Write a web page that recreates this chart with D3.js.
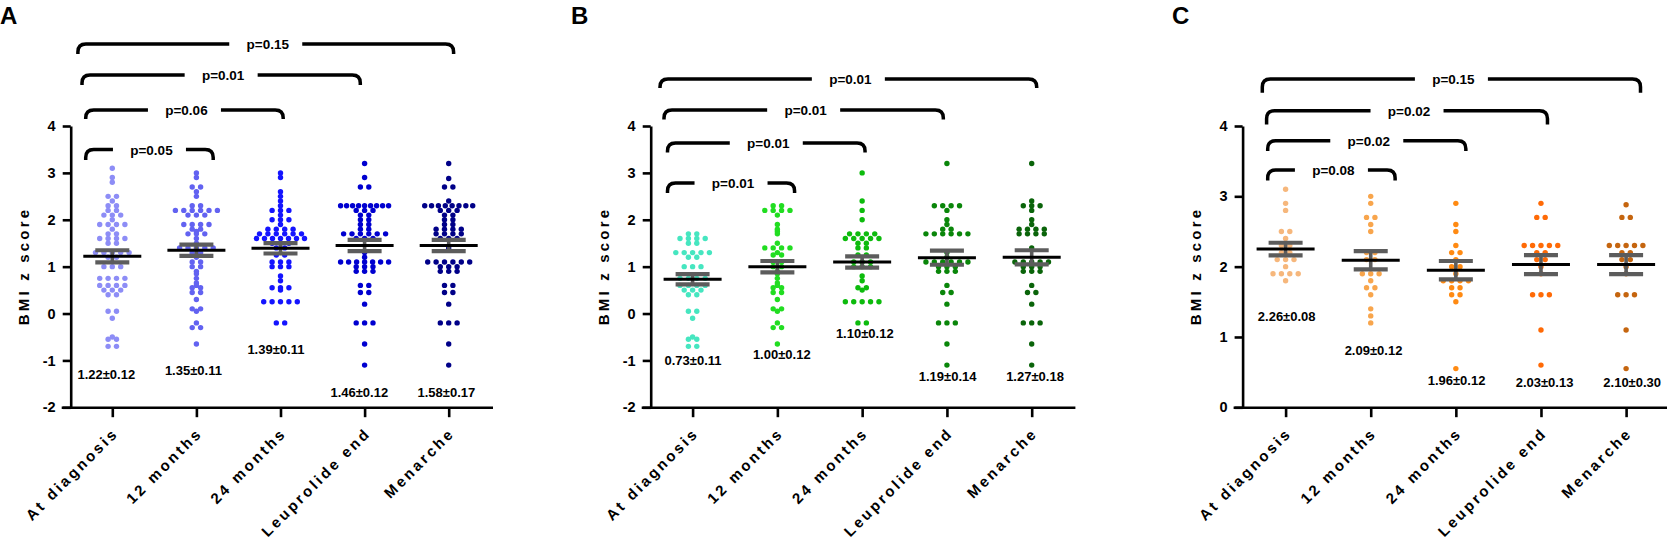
<!DOCTYPE html>
<html>
<head>
<meta charset="utf-8">
<script src="https://cdn.jsdelivr.net/npm/d3@7"></script>
<style>
  body { margin: 0; background: #fff; }
  svg { display: block; font-family: "Liberation Sans", Arial, sans-serif; font-weight: bold; }
  .tick text { font-size: 14.5px; font-weight: bold; fill: #000; }
  .tick line, .domain { stroke: #000; stroke-width: 2.6; }
</style>
</head>
<body>
<div id="chart"></div>
<script>
const categories = ["At diagnosis", "12 months", "24 months", "Leuprolide end", "Menarche"];

// panel A: all patients (BMI z score per dot)
const aDiagnosis = [3.1, 2.9, 2.8, 2.5, 2.5, 2.4, 2.3, 2.3, 2.2, 2.2, 2.1, 2.1, 2.1, 2.0, 1.9, 1.9, 1.9, 1.9, 1.8,
  1.7, 1.7, 1.6, 1.6, 1.6, 1.6, 1.5, 1.5, 1.3, 1.3, 1.3, 1.3, 1.3, 1.2, 1.2, 1.0, 1.0, 1.0,
  0.75, 0.75, 0.75, 0.75, 0.6, 0.6, 0.6, 0.6, 0.5, 0.5, 0.5, 0.4, 0.4,
  0.05, 0.05, -0.1, -0.5, -0.55, -0.55, -0.7, -0.7];
const a12m = [3.0, 2.9, 2.7, 2.7, 2.6, 2.5, 2.3, 2.3, 2.2, 2.2, 2.2, 2.2, 2.2, 2.2, 2.1, 2.1, 2.1, 1.9, 1.9, 1.9, 1.9,
  1.8, 1.8, 1.75, 1.7, 1.7, 1.7, 1.6, 1.5, 1.4, 1.4, 1.4, 1.4, 1.4, 1.3, 1.3, 1.25, 1.25, 1.2, 1.1, 1.1, 1.0, 1.0,
  0.9, 0.85, 0.75, 0.65, 0.6, 0.55, 0.55, 0.45, 0.45, 0.3, 0.1, 0.1, 0.05, -0.2, -0.3, -0.3, -0.65];
const a24m = [3.0, 2.9, 2.6, 2.5, 2.4, 2.3, 2.2, 2.2, 2.2, 2.1, 2.0, 2.0, 2.0, 1.9, 1.8, 1.8, 1.8, 1.8,
  1.7, 1.7, 1.7, 1.7, 1.7, 1.7, 1.6, 1.6, 1.6, 1.6, 1.6, 1.6, 1.6, 1.5, 1.5, 1.5, 1.4, 1.4, 1.25, 1.25,
  1.1, 1.1, 1.1, 1.0, 1.0, 1.0, 0.8, 0.7, 0.55, 0.55, 0.55, 0.5, 0.25, 0.25, 0.25, 0.25, 0.25, -0.2, -0.2];
const aLeuprolide = [3.2, 2.9, 2.7, 2.7, 2.3, 2.3, 2.3, 2.3, 2.3, 2.3, 2.3, 2.3, 2.3, 2.2, 2.2, 2.2, 2.1, 2.1,
  2.0, 2.0, 1.9, 1.9, 1.8, 1.8, 1.7, 1.7, 1.7, 1.7, 1.7, 1.7, 1.6, 1.6, 1.6, 1.3, 1.2,
  1.1, 1.1, 1.1, 1.1, 1.1, 1.1, 1.1, 1.0, 1.0, 1.0, 0.9, 0.9, 0.9, 0.6, 0.6, 0.45, 0.45, 0.2,
  -0.2, -0.2, -0.2, -0.65, -1.1];
const aMenarche = [3.2, 2.88, 2.7, 2.7, 2.4, 2.3, 2.3, 2.3, 2.3, 2.3, 2.3, 2.3, 2.3, 2.2, 2.2, 2.2, 2.1, 2.1,
  2.0, 2.0, 1.9, 1.9, 1.8, 1.8, 1.8, 1.8, 1.7, 1.7, 1.7, 1.7, 1.6, 1.6, 1.6, 1.4,
  1.1, 1.1, 1.1, 1.1, 1.1, 1.1, 1.0, 1.0, 1.0, 0.9, 0.9, 0.9, 0.6, 0.6, 0.45, 0.45, 0.2,
  -0.2, -0.2, -0.2, -0.65, -1.1];

// panel B
const bDiagnosis = [1.7, 1.7, 1.6, 1.6, 1.6, 1.6, 1.5, 1.5, 1.3, 1.3, 1.3, 1.3, 1.3, 1.2, 1.2, 1.0, 1.0, 1.0,
  0.75, 0.75, 0.75, 0.75, 0.6, 0.6, 0.6, 0.6, 0.5, 0.5, 0.5, 0.4, 0.4,
  0.05, 0.05, -0.1, -0.5, -0.55, -0.55, -0.7, -0.7];
const b12m = [2.3, 2.3, 2.2, 2.2, 2.2, 2.2, 2.1, 1.9, 1.8, 1.75, 1.7, 1.5, 1.4, 1.4, 1.4, 1.4, 1.3, 1.25, 1.25,
  1.1, 1.1, 1.0, 1.0, 0.9, 0.85, 0.75, 0.65, 0.6, 0.55, 0.55, 0.45, 0.45, 0.3, 0.1, 0.1, 0.05, -0.2, -0.3, -0.3, -0.65];
const b24m = [3.0, 2.4, 2.2, 2.0, 1.7, 1.7, 1.7, 1.7, 1.6, 1.6, 1.6, 1.6, 1.6, 1.5, 1.5, 1.4, 1.4, 1.25, 1.25,
  1.1, 1.1, 1.1, 1.0, 1.0, 1.0, 0.8, 0.7, 0.55, 0.55, 0.5, 0.25, 0.25, 0.25, 0.25, 0.25, -0.2, -0.2];
const bLeuprolide = [3.2, 2.3, 2.3, 2.3, 2.3, 2.2, 2.0, 1.9, 1.8, 1.8, 1.7, 1.7, 1.7, 1.7, 1.7, 1.7, 1.3, 1.2,
  1.1, 1.1, 1.1, 1.1, 1.1, 1.1, 1.0, 1.0, 1.0, 0.9, 0.9, 0.9, 0.6, 0.45, 0.45, 0.2, -0.2, -0.2, -0.2, -0.65, -1.1];
const bMenarche = [3.2, 2.4, 2.3, 2.3, 2.3, 2.2, 2.0, 1.9, 1.8, 1.8, 1.8, 1.8, 1.7, 1.7, 1.7, 1.7, 1.4,
  1.1, 1.1, 1.1, 1.1, 1.1, 1.0, 1.0, 1.0, 0.9, 0.9, 0.9, 0.6, 0.45, 0.45, 0.2, -0.2, -0.2, -0.2, -0.65, -1.1];

// panel C
const cDiagnosis = [3.1, 2.9, 2.8, 2.5, 2.5, 2.4, 2.3, 2.3, 2.2, 2.2, 2.1, 2.1, 2.1, 2.0, 1.9, 1.9, 1.9, 1.9, 1.8];
const c12m = [3.0, 2.9, 2.7, 2.7, 2.6, 2.5, 2.2, 2.2, 2.1, 2.1, 1.9, 1.9, 1.9, 1.8, 1.7, 1.7, 1.6, 1.4, 1.3, 1.2];
const c24m = [2.9, 2.6, 2.5, 2.3, 2.2, 2.2, 2.1, 2.0, 2.0, 1.9, 1.8, 1.8, 1.8, 1.8, 1.7, 1.7, 1.6, 1.6, 1.5, 0.55];
const cLeuprolide = [2.9, 2.7, 2.7, 2.3, 2.3, 2.3, 2.3, 2.3, 2.2, 2.2, 2.1, 2.1, 2.0, 1.9, 1.6, 1.6, 1.6, 1.1, 0.6];
const cMenarche = [2.88, 2.7, 2.7, 2.3, 2.3, 2.3, 2.3, 2.3, 2.2, 2.2, 2.1, 2.1, 2.0, 1.9, 1.6, 1.6, 1.6, 1.1, 0.55];

// plotted mean and SEM bars
const aMeans = [1.22, 1.35, 1.39, 1.45, 1.45];
const aSems = [0.13, 0.12, 0.11, 0.12, 0.12];
const bMeans = [0.73, 1.0, 1.1, 1.19, 1.2];
const bSems = [0.11, 0.12, 0.12, 0.15, 0.15];
const cMeans = [2.25, 2.09, 1.95, 2.03, 2.03];
const cSems = [0.09, 0.13, 0.13, 0.135, 0.135];

// printed summary labels
const aLabels = ["1.22±0.12", "1.35±0.11", "1.39±0.11", "1.46±0.12", "1.58±0.17"];
const bLabels = ["0.73±0.11", "1.00±0.12", "1.10±0.12", "1.19±0.14", "1.27±0.18"];
const cLabels = ["2.26±0.08", "2.09±0.12", "1.96±0.12", "2.03±0.13", "2.10±0.30"];

const aPvalues = ["p=0.05", "p=0.06", "p=0.01", "p=0.15"];
const bPvalues = ["p=0.01", "p=0.01", "p=0.01", "p=0.01"];
const cPvalues = ["p=0.08", "p=0.02", "p=0.02", "p=0.15"];

const aTicks = [-2, -1, 0, 1, 2, 3, 4];
const cTicks = [0, 1, 2, 3, 4];

const aColors = ["#8d8df6", "#6262f1", "#1414ff", "#0000d0", "#000088"];
const bColors = ["#46e6c0", "#21dd21", "#0dbb0d", "#0a860a", "#0a640a"];
const cColors = ["#f6b77c", "#f8a54c", "#ff8a12", "#ff6a06", "#c5650f"];

// layout of the three panels (pixels)
const panels = [
  {
    letter: "A", letterX: 0, axisX: 70.7, cats: [112.3, 448.7], axisEnd: 493, domain: [-2, 4], ticks: aTicks,
    columns: [aDiagnosis, a12m, a24m, aLeuprolide, aMenarche], colors: aColors,
    means: aMeans, sems: aSems, labels: aLabels,
    labelPos: [[-6, 379], [-3, 374.5], [-4.6, 353.5], [-5.3, 396.5], [-2.3, 396.5]],
    pvalues: aPvalues,
    brackets: [
      { to: 1, yt: 149.5, yb: 160, dx0: -26.6, dx1: 16.8 },
      { to: 2, yt: 110, yb: 119, dx0: -26.6, dx1: 2.7 },
      { to: 3, yt: 75, yb: 85, dx0: -30.3, dx1: -4.3 },
      { to: 4, yt: 44, yb: 54, dx0: -34.4, dx1: 4.9 }
    ]
  },
  {
    letter: "B", letterX: 571, axisX: 650.7, cats: [692.6, 1031.7], axisEnd: 1075.4, domain: [-2, 4], ticks: aTicks,
    columns: [bDiagnosis, b12m, b24m, bLeuprolide, bMenarche], colors: bColors,
    means: bMeans, sems: bSems, labels: bLabels,
    labelPos: [[0.4, 364.7], [4.4, 359.4], [2.6, 337.7], [0.7, 381.2], [3.3, 381.2]],
    pvalues: bPvalues,
    brackets: [
      { to: 1, yt: 183, yb: 193, dx0: -25.1, dx1: 17.2 },
      { to: 2, yt: 143, yb: 152.5, dx0: -25.1, dx1: 2.9 },
      { to: 3, yt: 110, yb: 119.5, dx0: -28.6, dx1: -3.6 },
      { to: 4, yt: 79, yb: 88, dx0: -32.6, dx1: 5 }
    ]
  },
  {
    letter: "C", letterX: 1172, axisX: 1242.6, cats: [1285.6, 1626.1], axisEnd: 1667, domain: [0, 4], ticks: cTicks,
    columns: [cDiagnosis, c12m, c24m, cLeuprolide, cMenarche], colors: cColors,
    means: cMeans, sems: cSems, labels: cLabels,
    labelPos: [[1.1, 321.3], [2.8, 355.2], [0.7, 385.3], [3.6, 387.1], [6.1, 387.1]],
    pvalues: cPvalues,
    brackets: [
      { to: 1, yt: 170, yb: 180.6, dx0: -17.9, dx1: 24.4 },
      { to: 2, yt: 140.8, yb: 151, dx0: -17.9, dx1: 10 },
      { to: 3, yt: 110.7, yb: 124.6, dx0: -19, dx1: 6.5 },
      { to: 4, yt: 79, yb: 92.7, dx0: -23.3, dx1: 14.4 }
    ]
  }
];

const W = 1667, H = 545;
const yTop = 126, yBottom = 407.3;
const dotR = 2.7;

const svg = d3.select("#chart").append("svg")
  .attr("width", W)
  .attr("height", H)
  .attr("viewBox", `0 0 ${W} ${H}`);

// Prism-like scatter: equal values share a row, centred on the category
function rowOffsets(values, step, maxSpan) {
  const groups = d3.group(values, (v) => v);
  const out = [];
  groups.forEach((list, v) => {
    const n = list.length;
    const s = n > 1 ? Math.min(step, maxSpan / (n - 1)) : 0;
    list.forEach((_, i) => out.push({ v: v, dx: (i - (n - 1) / 2) * s }));
  });
  return out;
}

function bracketPath(x0, x1, yt, yb, gapL, gapR) {
  const r = Math.min(8, yb - yt);
  return `M${x0},${yb} L${x0},${yt + r} Q${x0},${yt} ${x0 + r},${yt} L${gapL},${yt}` +
    ` M${gapR},${yt} L${x1 - r},${yt} Q${x1},${yt} ${x1},${yt + r} L${x1},${yb}`;
}

panels.forEach((p) => {
  const g = svg.append("g");

  const x = d3.scalePoint().domain(categories).range(p.cats).padding(0);
  const y = d3.scaleLinear().domain(p.domain).range([yBottom, yTop]);

  // panel letter
  g.append("text")
    .attr("x", p.letterX)
    .attr("y", 24)
    .attr("font-size", 24)
    .attr("font-weight", "bold")
    .text(p.letter);

  // y axis
  g.append("g")
    .attr("transform", `translate(${p.axisX},0)`)
    .call(d3.axisLeft(y).tickValues(p.ticks).tickFormat((d) => String(d))
      .tickSize(8).tickSizeOuter(0).tickPadding(7));

  // x axis line + ticks
  g.append("line")
    .attr("x1", p.axisX - 9).attr("x2", p.axisEnd)
    .attr("y1", yBottom + 0.4).attr("y2", yBottom + 0.4)
    .attr("stroke", "#000").attr("stroke-width", 2.6);
  const xa = g.append("g")
    .attr("transform", `translate(0,${yBottom + 0.4})`)
    .call(d3.axisBottom(x).tickSize(9.5).tickFormat(""));
  xa.select(".domain").remove();

  // category labels
  g.selectAll(".cat")
    .data(categories)
    .join("text")
    .attr("class", "cat")
    .attr("text-anchor", "end")
    .attr("font-size", 15)
    .attr("font-weight", "bold")
    .attr("letter-spacing", 2.8)
    .attr("transform", (d) => `translate(${x(d) + 7},${434}) rotate(-45)`)
    .text((d) => d);

  // y title
  g.append("text")
    .attr("text-anchor", "middle")
    .attr("font-size", 15)
    .attr("font-weight", "bold")
    .attr("letter-spacing", 3.2)
    .attr("transform", `translate(${p.axisX - 42},${266}) rotate(-90)`)
    .text("BMI z score");

  // dots
  p.columns.forEach((vals, ci) => {
    const cx = x(categories[ci]);
    g.append("g")
      .selectAll("circle")
      .data(rowOffsets(vals, 8.4, 48))
      .join("circle")
      .attr("cx", (d) => cx + d.dx)
      .attr("cy", (d) => y(d.v))
      .attr("r", dotR)
      .attr("fill", p.colors[ci]);
  });

  // SEM bars and mean lines
  p.means.forEach((m, ci) => {
    const cx = x(categories[ci]);
    const s = p.sems[ci];
    const bar = g.append("g");
    bar.append("line")
      .attr("x1", cx).attr("x2", cx)
      .attr("y1", y(m - s)).attr("y2", y(m + s))
      .attr("stroke", "#5c5c5c").attr("stroke-width", 3.6);
    [m - s, m + s].forEach((v) => {
      bar.append("line")
        .attr("x1", cx - 17).attr("x2", cx + 17)
        .attr("y1", y(v)).attr("y2", y(v))
        .attr("stroke", "#5c5c5c").attr("stroke-width", 4.2);
    });
    bar.append("line")
      .attr("x1", cx - 29).attr("x2", cx + 29)
      .attr("y1", y(m)).attr("y2", y(m))
      .attr("stroke", "#000").attr("stroke-width", 3);
  });

  // summary labels
  g.selectAll(".lab")
    .data(p.labels)
    .join("text")
    .attr("class", "lab")
    .attr("text-anchor", "middle")
    .attr("font-size", 13)
    .attr("font-weight", "bold")
    .attr("x", (d, i) => x(categories[i]) + p.labelPos[i][0])
    .attr("y", (d, i) => p.labelPos[i][1])
    .text((d) => d);

  // significance brackets
  p.brackets.forEach((b, bi) => {
    const x0 = x(categories[0]) + b.dx0;
    const x1 = x(categories[b.to]) + b.dx1;
    const mid = (x0 + x1) / 2;
    g.append("path")
      .attr("d", bracketPath(x0, x1, b.yt, b.yb, mid - 36.5, mid + 36.5))
      .attr("fill", "none")
      .attr("stroke", "#000")
      .attr("stroke-width", 3.5);
    g.append("text")
      .attr("x", mid + 2)
      .attr("y", b.yt + 5)
      .attr("text-anchor", "middle")
      .attr("font-size", 13.5)
      .attr("font-weight", "bold")
      .text(p.pvalues[bi]);
  });
});
</script>
</body>
</html>
